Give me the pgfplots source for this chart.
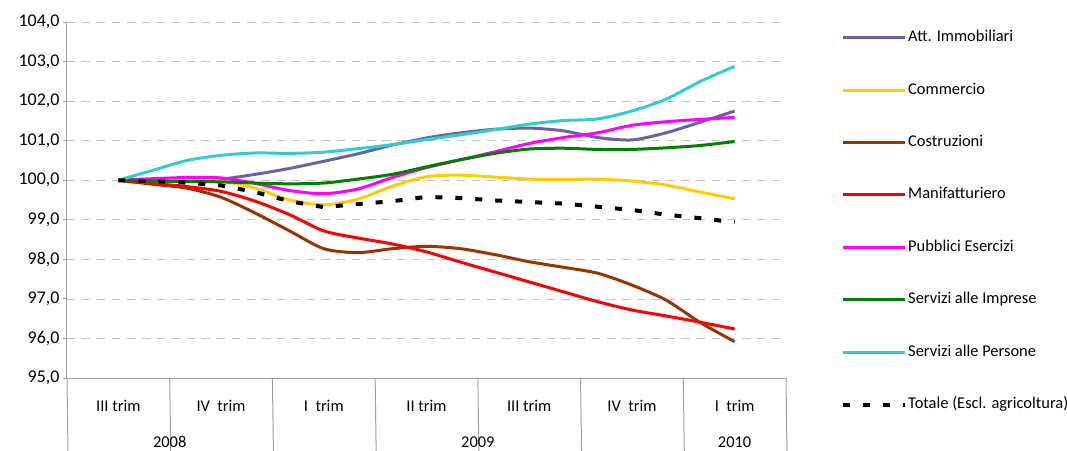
\documentclass[border=0pt]{standalone}
\usepackage{fontspec}
\setmainfont{Carlito}
\usepackage{pgfplots}
\usepackage{pgfplotstable}
\pgfplotsset{compat=1.18}

\definecolor{cAtt}{RGB}{104,100,164}
\definecolor{cCom}{RGB}{255,204,0}
\definecolor{cCos}{RGB}{153,51,0}
\definecolor{cMan}{RGB}{255,0,0}
\definecolor{cPub}{RGB}{255,0,255}
\definecolor{cSim}{RGB}{0,128,0}
\definecolor{cSpe}{RGB}{51,204,204}
\definecolor{gridc}{RGB}{192,192,192}
\definecolor{axisc}{RGB}{160,160,160}

% one point per month, x in quarters (0 = III trim 2008)
\pgfplotstableread{
x     att    com    cos    man    pub    sim    spe    tot
0.000 100.00 100.00 100.00 100.00 100.00 100.00 100.00 100.00
0.333 100.01 100.00 99.90  99.92  100.04 99.98  100.25 99.98
0.667 100.02 100.00 99.80  99.84  100.07 99.97  100.50 99.94
1.000 100.03 99.98  99.57  99.72  100.06 99.96  100.63 99.87
1.333 100.15 99.80  99.17  99.47  99.92  99.93  100.69 99.70
1.667 100.30 99.50  98.72  99.13  99.74  99.91  100.68 99.47
2.000 100.48 99.38  98.27  98.72  99.66  99.93  100.71 99.32
2.333 100.67 99.52  98.17  98.54  99.78  100.03 100.80 99.40
2.667 100.89 99.85  98.27  98.39  100.07 100.15 100.90 99.47
3.000 101.07 100.09 98.33  98.19  100.32 100.34 101.03 99.58
3.333 101.20 100.13 98.27  97.93  100.52 100.52 101.15 99.55
3.667 101.29 100.08 98.12  97.68  100.72 100.68 101.28 99.49
4.000 101.32 100.03 97.94  97.43  100.93 100.79 101.42 99.45
4.333 101.25 100.02 97.80  97.18  101.08 100.81 101.51 99.41
4.667 101.08 100.03 97.65  96.93  101.20 100.78 101.55 99.33
5.000 101.02 99.98  97.35  96.72  101.39 100.78 101.75 99.25
5.333 101.20 99.88  96.97  96.57  101.48 100.82 102.05 99.13
5.667 101.47 99.70  96.40  96.41  101.54 100.88 102.50 99.04
6.000 101.75 99.53  95.92  96.24  101.59 100.98 102.88 98.94
}\data

\begin{document}
\begin{tikzpicture}
\path[use as bounding box] (-67bp,-73bp) rectangle (1000bp,378bp);
\begin{axis}[
  at={(0,0)}, anchor=south west,
  scale only axis, width=719bp, height=356bp,
  xmin=-0.5, xmax=6.5, ymin=95, ymax=104,
  axis lines*=left,
  axis line style={draw=axisc, line width=1bp},
  clip=false,
  ytick={95,96,...,104},
  ymajorgrids,
  grid style={draw=gridc, line width=0.8bp, dash pattern=on 8bp off 7bp},
  tick align=outside,
  major tick length=4bp,
  ytick style={draw=axisc, line width=1bp},
  xtick={0,...,6},
  xticklabels={III trim, IV\ \ trim, I\ \ trim, II trim, III trim, IV\ \ trim, I\ \ trim},
  xtick style={draw=none},
  xticklabel style={font=\fontsize{16.5}{18}\selectfont, anchor=center, yshift=-24bp},
  yticklabel style={font=\fontsize{18}{20}\selectfont,
    /pgf/number format/.cd, fixed, fixed zerofill, precision=1, use comma,
    assume math mode=true},
  legend image code/.code={\draw[#1] (0bp,0bp) -- (62bp,0bp);},
  legend style={at={(1.0765,0.979)}, anchor=north west, draw=none, fill=none,
    inner sep=0pt, row sep=36.4bp,
    font=\fontsize{16.5}{18}\selectfont,
    nodes={inner xsep=1bp, inner ysep=0bp, text height=12bp, text depth=4bp},
    cells={anchor=west}},
  every axis plot/.append style={line width=3bp, no markers},
]
\addplot[cAtt, smooth, tension=0.45] table[x=x, y=att] {\data};
\addlegendentry{Att. Immobiliari}
\addplot[cCom, smooth, tension=0.45] table[x=x, y=com] {\data};
\addlegendentry{Commercio}
\addplot[cCos, smooth, tension=0.45] table[x=x, y=cos] {\data};
\addlegendentry{Costruzioni}
\addplot[cMan, smooth, tension=0.45] table[x=x, y=man] {\data};
\addlegendentry{Manifatturiero}
\addplot[cPub, smooth, tension=0.45] table[x=x, y=pub] {\data};
\addlegendentry{Pubblici Esercizi}
\addplot[cSim, smooth, tension=0.45] table[x=x, y=sim] {\data};
\addlegendentry{Servizi alle Imprese}
\addplot[cSpe, smooth, tension=0.45] table[x=x, y=spe] {\data};
\addlegendentry{Servizi alle Persone}
\addplot[black, line width=4bp, dash pattern=on 7bp off 13bp]
  table[x=x, y=tot] {\data};
\addlegendentry{Totale (Escl. agricoltura)}

% category table below the axis
\pgfplotsinvokeforeach{0.5,2.5,3.5,4.5}{
  \draw[axisc, line width=1bp] (axis cs:#1,95) -- ++(0,-38bp);
}
\pgfplotsinvokeforeach{-0.5,1.5,5.5,6.5}{
  \draw[axisc, line width=1bp] (axis cs:#1,95) -- ++(0,-73bp);
}
\draw[axisc, line width=1bp] (axis cs:-0.5,95) -- (axis cs:6.5,95);
\node[font=\fontsize{16.5}{18}\selectfont] at ([yshift=-64bp]axis cs:0.5,95) {2008};
\node[font=\fontsize{16.5}{18}\selectfont] at ([yshift=-64bp]axis cs:3.5,95) {2009};
\node[font=\fontsize{16.5}{18}\selectfont] at ([yshift=-64bp]axis cs:6,95) {2010};
\end{axis}
\end{tikzpicture}
\end{document}
